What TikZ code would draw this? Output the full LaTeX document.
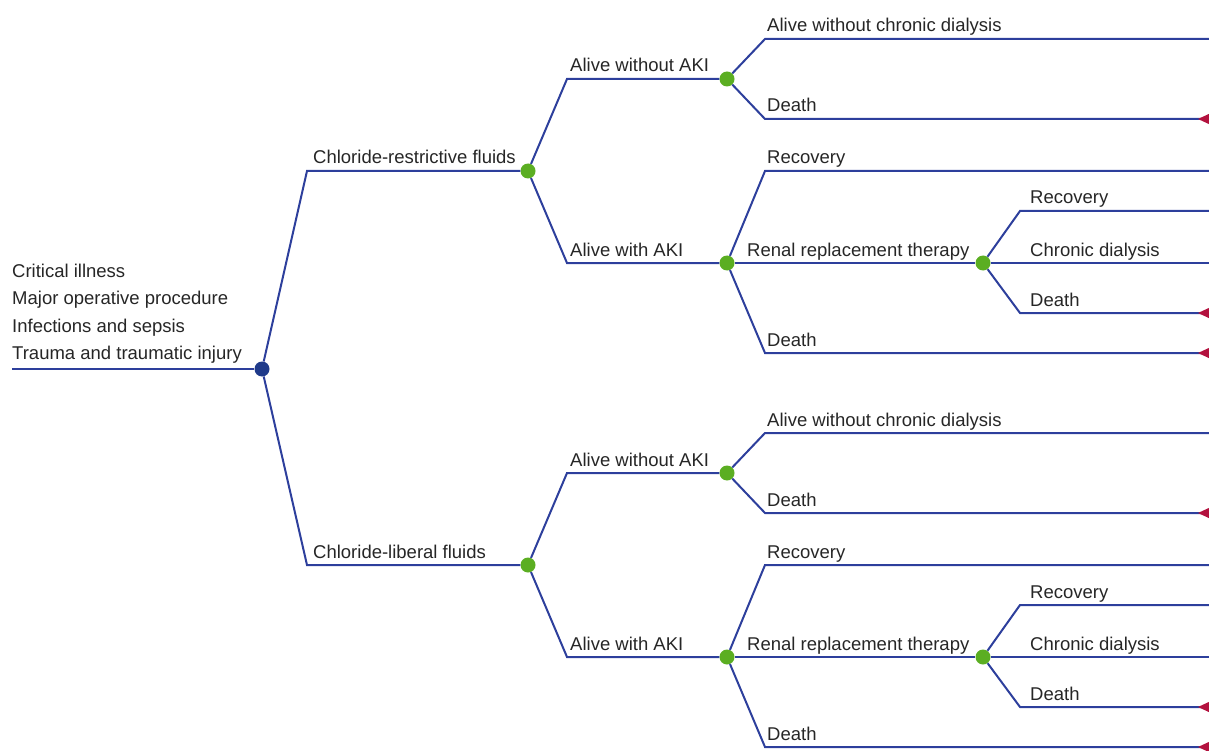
\documentclass[tikz,border=0pt]{standalone}
\usepackage{fontspec}
\setmainfont{Liberation Sans}
\definecolor{treeblue}{HTML}{2D3F9C}
\definecolor{rootblue}{HTML}{1F3A8A}
\definecolor{chancegreen}{HTML}{5BAE22}
\definecolor{termred}{HTML}{B3123E}
\begin{document}
\begin{tikzpicture}[x=1pt, y=-1pt,
    ramo/.style={draw=treeblue, line width=2pt},
    chance/.style={circle, fill=chancegreen, minimum size=15pt, inner sep=0pt},
    raiz/.style={circle, fill=rootblue, minimum size=15pt, inner sep=0pt},
    rotulo/.style={anchor=base west, inner sep=0pt, text=black!85, font=\fontsize{18.5}{27.5}\selectfont},
    terminal/.style={fill=termred}]
\useasboundingbox (0,0) rectangle (1209,751);
% raiz
\node[rotulo, align=left, anchor=south west] (cond) at (12,364) {Critical illness\\Major operative procedure\\Infections and sepsis\\Trauma and traumatic injury};
\coordinate (ini) at (12,369);
\node[raiz] (root) at (262,369) {};
\draw[ramo] (ini) -- (root);
% dois bracos
\foreach \s/\dy/\braco in {r/0/Chloride-restrictive fluids, l/394/Chloride-liberal fluids}{
\begin{scope}[shift={(0,\dy)}]
  \foreach \i/\y in {1/39, 2/119, 3/171, 4/211, 5/263, 6/313, 7/353}
    \coordinate (e\i\s) at (1212,\y);
  \node[chance] (c\s) at (528,171) {};
  \node[chance] (n\s) at (727,79) {};
  \node[chance] (k\s) at (727,263) {};
  \node[chance] (d\s) at (983,263) {};
  \draw[ramo] (root) -- (307,171) -- (c\s);
  \draw[ramo] (c\s) -- (567,79) -- (n\s);
  \draw[ramo] (c\s) -- (567,263) -- (k\s);
  \draw[ramo] (n\s) -- (765,39) -- (e1\s);
  \draw[ramo] (n\s) -- (765,119) -- (e2\s);
  \draw[ramo] (k\s) -- (765,171) -- (e3\s);
  \draw[ramo] (k\s) -- (d\s);
  \draw[ramo] (k\s) -- (765,353) -- (e7\s);
  \draw[ramo] (d\s) -- (1020,211) -- (e4\s);
  \draw[ramo] (d\s) -- (e5\s);
  \draw[ramo] (d\s) -- (1020,313) -- (e6\s);
  \foreach \i in {2,6,7}
    \fill[terminal] (e\i\s) ++(-14,0) -- ++(14,-6.5) -- ++(0,13) -- cycle;
  % rotulos
  \node[rotulo] at (313,164) {\braco};
  \node[rotulo] at (570,72) {Alive without AKI};
  \node[rotulo] at (570,256) {Alive with AKI};
  \node[rotulo] at (767,32) {Alive without chronic dialysis};
  \node[rotulo] at (767,112) {Death};
  \node[rotulo] at (767,164) {Recovery};
  \node[rotulo] at (747,256) {Renal replacement therapy};
  \node[rotulo] at (767,346) {Death};
  \node[rotulo] at (1030,204) {Recovery};
  \node[rotulo] at (1030,256) {Chronic dialysis};
  \node[rotulo] at (1030,306) {Death};
\end{scope}}
\end{tikzpicture}
\end{document}
